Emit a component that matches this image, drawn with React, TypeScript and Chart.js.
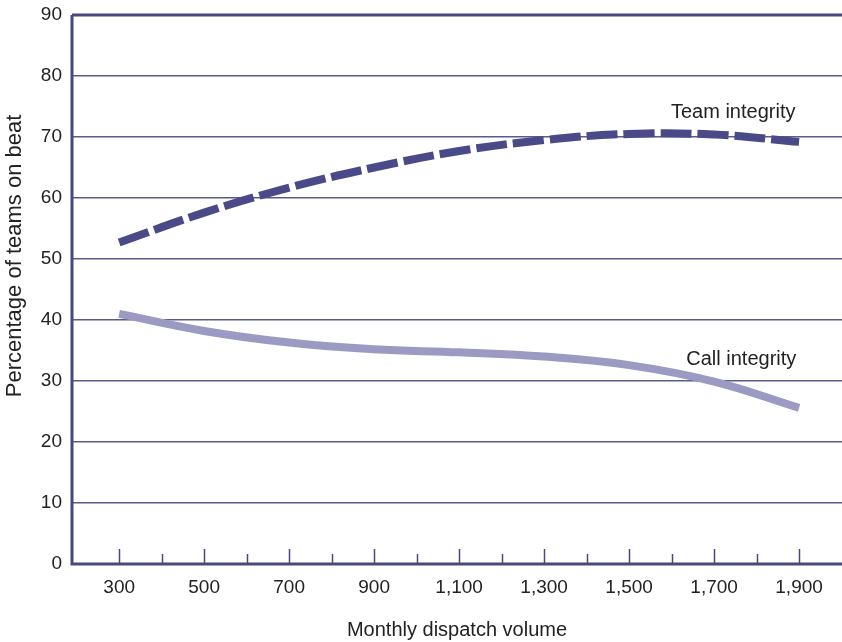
import React, { useEffect, useRef } from "react";
import { Chart, registerables } from "chart.js";

Chart.register(...registerables);

const volumes = [300, 500, 700, 900, 1100, 1300, 1500, 1700, 1900];
const teamIntegrity = [52.7, 57.6, 61.7, 65.0, 67.7, 69.5, 70.5, 70.4, 69.2];
const callIntegrity = [41.0, 38.2, 36.3, 35.2, 34.7, 34.0, 32.6, 29.9, 25.6];
const xTickLabels = [300, 500, 700, 900, 1100, 1300, 1500, 1700, 1900];
const minorTicks = [400, 600, 800, 1000, 1200, 1400, 1600, 1800];
const seriesLabels = [
  { text: "Team integrity", x: 1745, y: 74.1 },
  { text: "Call integrity", x: 1764, y: 33.6 },
];
const yTitle = "Percentage of teams on beat";
const xTitle = "Monthly dispatch volume";

const AXIS = "#48487f";
const GRID = "#5a5a8c";
const TEXT = "#222222";
const FONT = "'Liberation Sans', Arial, Helvetica, sans-serif";

const decor = {
  id: "decor",
  afterDatasetsDraw(chart: any) {
    const { ctx, chartArea, scales } = chart;
    const x = scales.x;
    const y = scales.y;
    ctx.save();
    ctx.strokeStyle = AXIS;
    ctx.lineWidth = 3;
    ctx.beginPath();
    ctx.moveTo(chartArea.left, chartArea.top);
    ctx.lineTo(chartArea.left, chartArea.bottom);
    ctx.lineTo(chartArea.right, chartArea.bottom);
    ctx.moveTo(chartArea.left, chartArea.top);
    ctx.lineTo(chartArea.right, chartArea.top);
    ctx.stroke();
    ctx.lineWidth = 1.5;
    ctx.beginPath();
    xTickLabels.forEach((v) => {
      const px = Math.round(x.getPixelForValue(v)) + 0.5;
      ctx.moveTo(px, chartArea.bottom);
      ctx.lineTo(px, chartArea.bottom - 15);
    });
    minorTicks.forEach((v) => {
      const px = Math.round(x.getPixelForValue(v)) + 0.5;
      ctx.moveTo(px, chartArea.bottom);
      ctx.lineTo(px, chartArea.bottom - 10);
    });
    ctx.stroke();
    ctx.fillStyle = TEXT;
    ctx.font = `20px ${FONT}`;
    ctx.textAlign = "center";
    ctx.textBaseline = "middle";
    seriesLabels.forEach((l) => {
      ctx.fillText(l.text, x.getPixelForValue(l.x), y.getPixelForValue(l.y));
    });
    ctx.save();
    ctx.translate(15, y.getPixelForValue(50.5));
    ctx.rotate(-Math.PI / 2);
    ctx.font = `22px ${FONT}`;
    ctx.fillText(yTitle, 0, 0);
    ctx.restore();
    ctx.restore();
  },
};

export default function App() {
  const ref = useRef<HTMLCanvasElement>(null);
  useEffect(() => {
    if (!ref.current) return;
    const chart = new Chart(ref.current, {
      type: "line",
      data: {
        datasets: [
          {
            label: "Team integrity",
            data: volumes.map((v, i) => ({ x: v, y: teamIntegrity[i] })),
            borderColor: "#4a4a88",
            borderWidth: 8,
            borderDash: [31, 6],
            borderCapStyle: "butt",
            pointRadius: 0,
            tension: 0.4,
            fill: false,
          },
          {
            label: "Call integrity",
            data: volumes.map((v, i) => ({ x: v, y: callIntegrity[i] })),
            borderColor: "#9a9ac3",
            borderWidth: 8,
            borderCapStyle: "butt",
            pointRadius: 0,
            tension: 0.4,
            fill: false,
          },
        ],
      },
      options: {
        animation: false,
        responsive: false,
        maintainAspectRatio: false,
        layout: { padding: { top: 15, right: 0, left: 0, bottom: 0 } },
        plugins: { legend: { display: false }, tooltip: { enabled: false } },
        scales: {
          x: {
            type: "linear",
            min: 189,
            max: 2001,
            afterBuildTicks: (scale: any) => {
              scale.ticks = xTickLabels.map((v) => ({ value: v }));
            },
            afterFit: (scale: any) => {
              scale.height = 78;
              scale.paddingLeft = 0;
              scale.paddingRight = 0;
            },
            grid: { display: false, drawTicks: false },
            border: { display: false },
            ticks: {
              color: TEXT,
              font: { family: FONT, size: 19 },
              padding: 12,
              maxRotation: 0,
              autoSkip: false,
              callback: (v: any) => Number(v).toLocaleString("en-US"),
            },
            title: {
              display: true,
              text: xTitle,
              color: TEXT,
              font: { family: FONT, size: 20 },
              padding: { top: 21, bottom: 0 },
            },
          },
          y: {
            min: 0,
            max: 90,
            afterFit: (scale: any) => {
              scale.width = 72;
              scale.paddingTop = 0;
              scale.paddingBottom = 0;
            },
            ticks: {
              stepSize: 10,
              color: TEXT,
              font: { family: FONT, size: 19 },
              padding: 10,
            },
            grid: {
              color: GRID,
              lineWidth: 1.5,
              drawTicks: false,
            },
            border: { display: false },
            title: { display: false },
          },
        },
      },
      plugins: [decor],
    });
    return () => chart.destroy();
  }, []);
  return (
    <canvas
      ref={ref}
      width={842}
      height={642}
      style={{ position: "fixed", left: 0, top: 0, width: 842, height: 642 }}
    />
  );
}
